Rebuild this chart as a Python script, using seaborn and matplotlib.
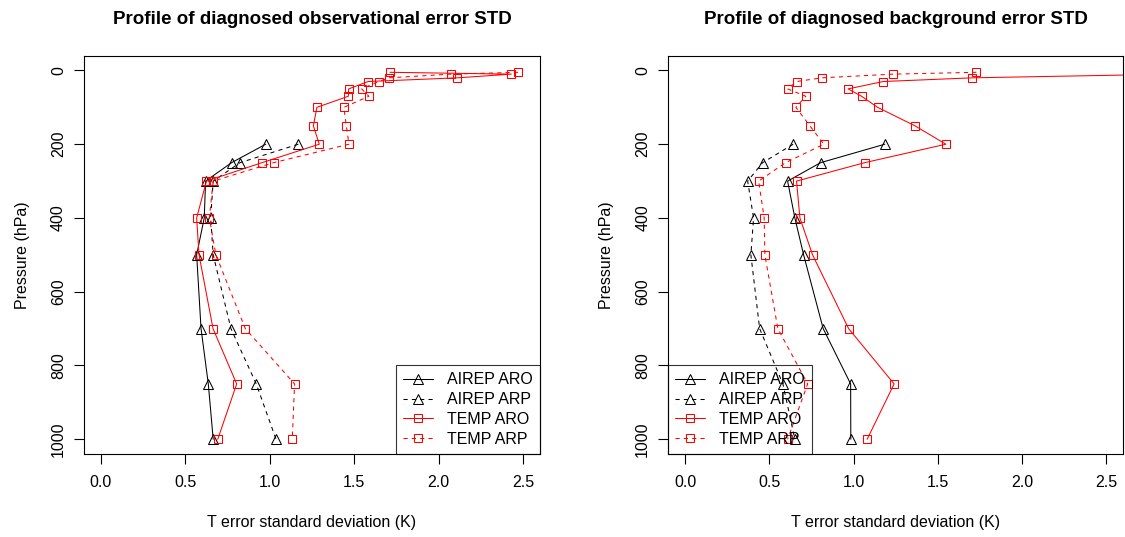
import matplotlib
matplotlib.use("Agg")
import matplotlib.pyplot as plt
import seaborn as sns
import pandas as pd

# ---------------- data ----------------
levels_temp = [5, 10, 20, 30, 50, 70, 100, 150, 200, 250, 300, 400, 500, 700, 850, 1000]
levels_airep = [200, 250, 300, 400, 500, 700, 850, 1000]

# observational error STD
obs_airep_aro = [0.976, 0.774, 0.620, 0.612, 0.567, 0.593, 0.636, 0.665]
obs_airep_arp = [1.169, 0.824, 0.665, 0.650, 0.665, 0.770, 0.920, 1.037]
obs_temp_aro = [1.712, 2.430, 2.110, 1.583, 1.467, 1.465, 1.279, 1.258, 1.293, 0.954,
                0.625, 0.567, 0.581, 0.664, 0.804, 0.692]
obs_temp_arp = [2.470, 2.071, 1.706, 1.644, 1.544, 1.587, 1.439, 1.453, 1.469, 1.023,
                0.665, 0.642, 0.681, 0.855, 1.147, 1.133]

# background error STD
bg_airep_aro = [1.185, 0.804, 0.608, 0.651, 0.703, 0.819, 0.982, 0.983]
bg_airep_arp = [0.641, 0.460, 0.371, 0.406, 0.390, 0.442, 0.580, 0.651]
bg_temp_aro = [3.300, 2.900, 1.705, 1.175, 0.967, 1.047, 1.142, 1.363, 1.547, 1.066,
               0.661, 0.681, 0.756, 0.970, 1.240, 1.080]
bg_temp_arp = [1.728, 1.234, 0.811, 0.663, 0.608, 0.716, 0.657, 0.740, 0.823, 0.596,
               0.436, 0.469, 0.473, 0.550, 0.727, 0.608]

series_names = ["AIREP ARO", "AIREP ARP", "TEMP ARO", "TEMP ARP"]
titles = ["Profile of diagnosed observational error STD",
          "Profile of diagnosed background error STD"]
xlabel = "T error standard deviation (K)"
ylabel = "Pressure (hPa)"
xticks = [0.0, 0.5, 1.0, 1.5, 2.0, 2.5]
yticks = [0, 200, 400, 600, 800, 1000]

# ---------------- style ----------------
sns.set_style("ticks")
plt.rcParams["font.family"] = ["Liberation Sans", "DejaVu Sans"]
plt.rcParams["axes.linewidth"] = 0.8
for k in ["text.color", "axes.labelcolor", "xtick.color", "ytick.color",
          "axes.edgecolor", "xtick.labelcolor", "ytick.labelcolor"]:
    plt.rcParams[k] = "black"

fig = plt.figure(figsize=(11.25, 5.37), dpi=100)
W, H = 1125, 537


def ax_rect(x0, x1, y0, y1):
    return [x0 / W, 1 - y1 / H, (x1 - x0) / W, (y1 - y0) / H]


axes = [fig.add_axes(ax_rect(84, 540, 55.7, 454)),
        fig.add_axes(ax_rect(668.3, 1123.3, 55.7, 454))]

styles = [
    dict(color="black", ls="-", marker="^", ms=7.2),
    dict(color="black", ls=(0, (4, 4)), marker="^", ms=7.2),
    dict(color="red", ls="-", marker="s", ms=5.3),
    dict(color="red", ls=(0, (4, 4)), marker="s", ms=5.3),
]

panels = [
    [(obs_airep_aro, levels_airep), (obs_airep_arp, levels_airep),
     (obs_temp_aro, levels_temp), (obs_temp_arp, levels_temp)],
    [(bg_airep_aro, levels_airep), (bg_airep_arp, levels_airep),
     (bg_temp_aro, levels_temp), (bg_temp_arp, levels_temp)],
]

for i, ax in enumerate(axes):
    for (vals, levs), st, name in zip(panels[i], styles, series_names):
        df = pd.DataFrame({"std": vals, "p": levs})
        sns.lineplot(data=df, x="std", y="p", sort=False, estimator=None, ax=ax,
                     color=st["color"], linestyle=st["ls"], linewidth=0.75,
                     marker=st["marker"], markersize=st["ms"],
                     markerfacecolor="none", markeredgecolor=st["color"],
                     markeredgewidth=0.75, label=name, legend=False)
    ax.set_xlim(-0.1, 2.6)
    ax.set_ylim(1040, -40)
    ax.set_xticks(xticks)
    ax.set_xticklabels([f"{t:.1f}" for t in xticks])
    ax.set_yticks(yticks)
    ax.set_yticklabels([str(t) for t in yticks], rotation=90, va="center")
    ax.tick_params(axis="both", direction="out", length=7, width=0.8,
                   labelsize=11.5, color="black", labelcolor="black", pad=8)
    ax.tick_params(axis="y", pad=6)
    for s in ax.spines.values():
        s.set_color("black")
        s.set_linewidth(0.8)
    ax.set_xlabel(xlabel, fontsize=11.5, labelpad=18, color="black")
    ax.set_ylabel(ylabel, fontsize=11.5, labelpad=15, color="black")
    ax.set_title(titles[i], fontsize=13.5, fontweight="bold", pad=23, color="black")
    ax.grid(False)

    handles = ax.get_lines()[:4]
    leg = ax.legend(handles=handles, labels=series_names,
                    loc="lower right" if i == 0 else "lower left",
                    borderaxespad=0, fontsize=11.5, frameon=True, fancybox=False,
                    edgecolor="black", facecolor="none", framealpha=None,
                    handlelength=1.85, handletextpad=0.9, labelspacing=0.3,
                    borderpad=0.45, labelcolor="black")
    leg.get_frame().set_linewidth(0.8)

fig.savefig("out.png", dpi=100)
